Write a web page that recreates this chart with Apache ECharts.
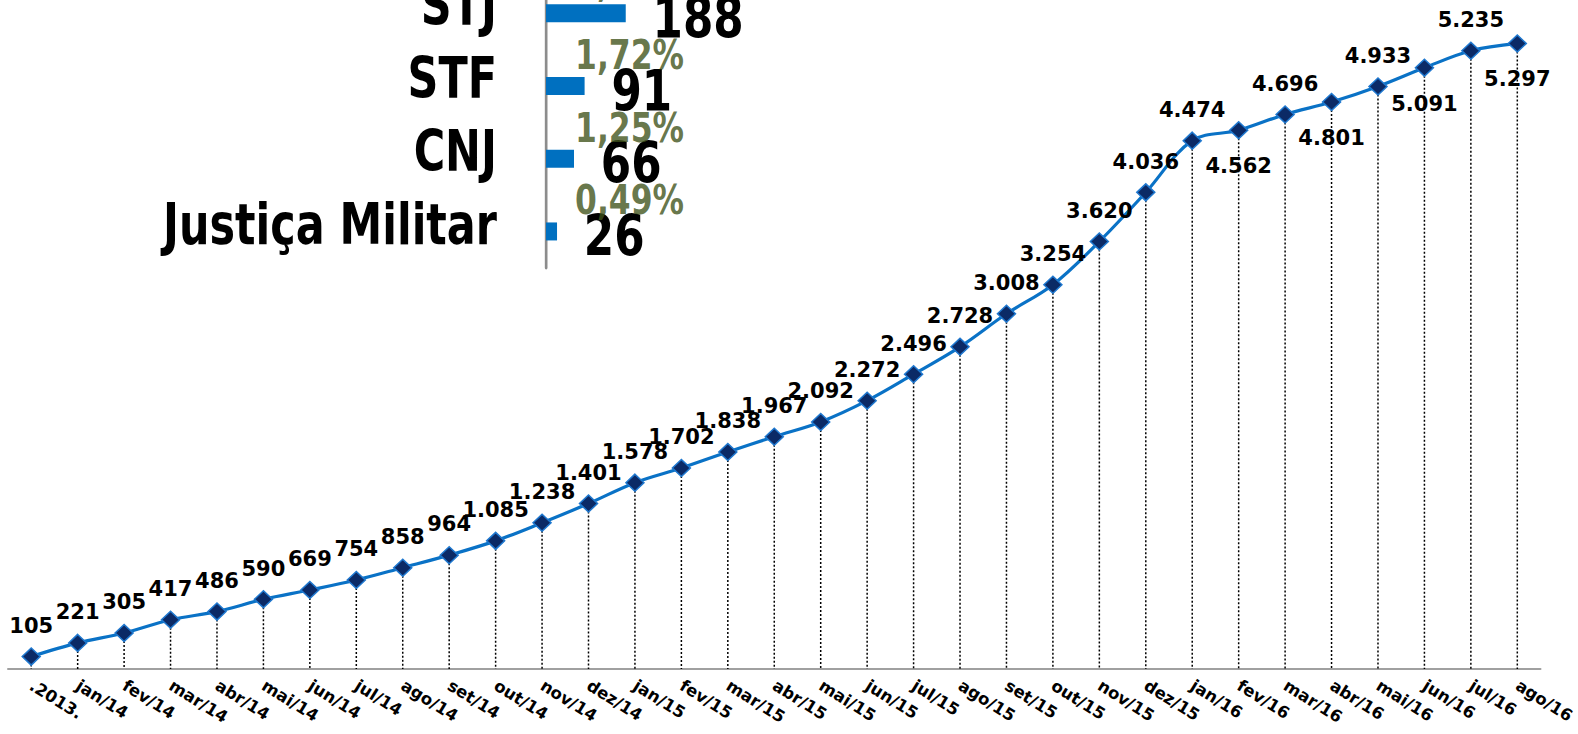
<!DOCTYPE html>
<html><head><meta charset="utf-8">
<script src="https://cdn.jsdelivr.net/npm/echarts@6/dist/echarts.min.js"></script>
<style>
html,body{margin:0;padding:0;background:#fff;overflow:hidden;width:1578px;height:734px}
#main{position:absolute;left:0;top:0;width:1578px;height:734px}
#inset{position:absolute;left:0;top:-23px;width:1306px;height:300px;transform:scaleX(0.766);transform-origin:0 0}
</style></head><body>
<div id="main"></div><div id="inset"></div>
<script>
// ---- data ----
const months = ['.2013.','jan/14','fev/14','mar/14','abr/14','mai/14','jun/14','jul/14','ago/14','set/14','out/14','nov/14','dez/14',
  'jan/15','fev/15','mar/15','abr/15','mai/15','jun/15','jul/15','ago/15','set/15','out/15','nov/15','dez/15',
  'jan/16','fev/16','mar/16','abr/16','mai/16','jun/16','jul/16','ago/16'];
const processos = [105,221,305,417,486,590,669,754,858,964,1085,1238,1401,1578,1702,1838,1967,2092,2272,2496,2728,3008,3254,3620,4036,4474,4562,4696,4801,4933,5091,5235,5297];
const orgaos = ['STJ','STF','CNJ','Justiça Militar'];
const orgaoValores = [188,91,66,26];
const orgaoPercentuais = ['3,55%','1,72%','1,25%','0,49%'];

const FONT = 'DejaVu Sans';
const fmt = v => String(v).replace(/\B(?=(\d{3})+(?!\d))/g, '.');

// ---- main line chart ----
const main = echarts.init(document.getElementById('main'), null, {renderer:'svg'});
main.setOption({
  animation:false,
  backgroundColor:'#ffffff',
  grid:{left:8, right:37, top:0, bottom:65, containLabel:false},
  xAxis:{type:'category', data:months, boundaryGap:true,
    axisLine:{show:true, lineStyle:{color:'#a0a0a0', width:2}},
    axisTick:{show:false}, splitLine:{show:false},
    axisLabel:{interval:0, rotate:-32, margin:15, fontFamily:FONT, fontWeight:'bold', fontSize:16.5, color:'#000'}},
  yAxis:{type:'value', min:0, max:5665, show:false, splitLine:{show:false}},
  series:[
    {type:'custom', z:1, silent:true,
     data:processos.map((v,i)=>[i,v]),
     renderItem:(params, api)=>{
       const top = api.coord([api.value(0), api.value(1)]);
       const bot = api.coord([api.value(0), 0]);
       return {type:'line', shape:{x1:top[0], y1:top[1], x2:bot[0], y2:bot[1]},
               style:{stroke:'#000', lineWidth:1.5, lineDash:[2,2]}};
     }},
    {type:'line', z:2, smooth:0.35,
     data:processos.map((v,i)=>{
       const below = i >= 26 && (i - 26) % 2 === 0;
       return below ? {value:v, label:{position:'bottom', distance:16}} : v;
     }),
     symbol:'diamond', symbolSize:[18,17],
     lineStyle:{color:'#0A72C6', width:3.2},
     itemStyle:{color:'#0B2A66', borderColor:'#1F78CF', borderWidth:1.5},
     label:{show:true, position:'top', distance:11, fontFamily:FONT, fontWeight:'bold', fontSize:21, color:'#000',
            formatter:p=>fmt(p.value)}}
  ]
});

// ---- inset bar chart ----
const inset = echarts.init(document.getElementById('inset'), null, {renderer:'svg'});
inset.setOption({
  animation:false,
  grid:{left:712.8, top:0, width:500, height:290.8, containLabel:false},
  xAxis:{type:'value', min:0, max:903, show:false, splitLine:{show:false}},
  yAxis:{type:'category', data:orgaos, inverse:true,
    axisLine:{show:true, lineStyle:{color:'#8c8c8c', width:3.5}},
    axisTick:{show:false}, splitLine:{show:false},
    axisLabel:{interval:0, margin:64, fontFamily:FONT, fontWeight:'bold', fontSize:56, color:'#000',
               verticalAlign:'bottom', lineHeight:14}},
  series:[
    {type:'bar', data:orgaoValores, barWidth:18, z:2,
     itemStyle:{color:'#0070C0'},
     label:{show:true, position:'right', distance:35, offset:[0,5], fontFamily:FONT, fontWeight:'bold', fontSize:57, color:'#000'}},
    {type:'scatter', z:3, symbolSize:0, silent:true,
     data:orgaos.map(c=>[68.5, c]),
     label:{show:true, position:'right', distance:0, offset:[0,-31],
            formatter:p=>orgaoPercentuais[p.dataIndex],
            fontFamily:FONT, fontWeight:'bold', fontSize:41, color:'#3F531A'}}
  ]
});
</script>
</body></html>
